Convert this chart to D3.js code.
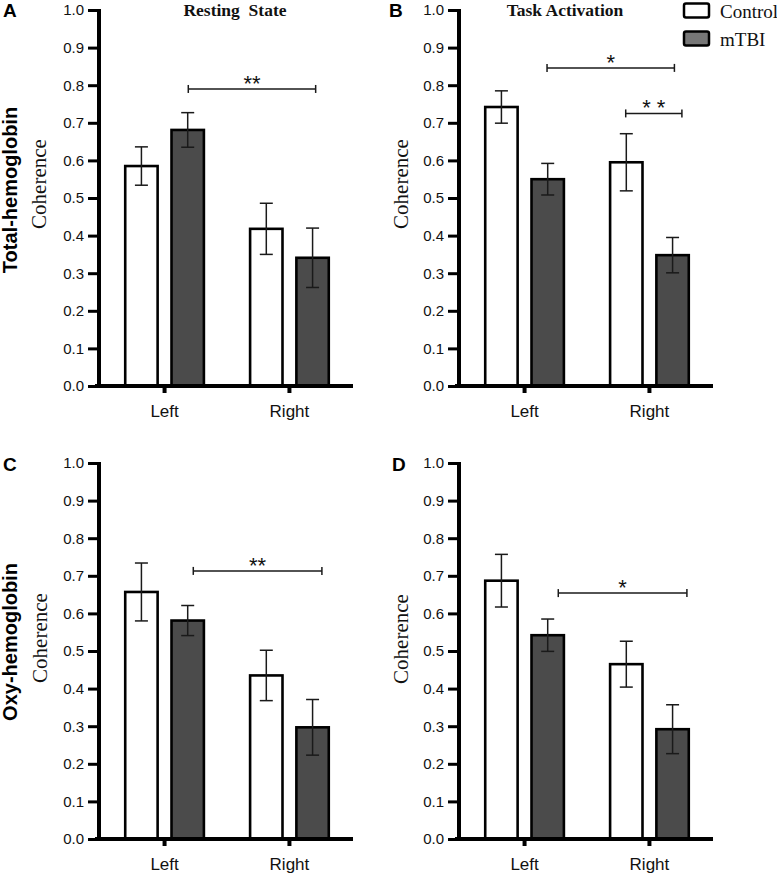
<!DOCTYPE html>
<html>
<head>
<meta charset="utf-8">
<script src="https://cdn.jsdelivr.net/npm/d3@7"></script>
<style>
  html, body { margin: 0; padding: 0; background: #fff; }
  svg { display: block; }
  .pre { white-space: pre; }
</style>
</head>
<body>
<svg id="chart" width="777" height="876"></svg>
<script>
// ---------------- data ----------------
const categories = ["Left", "Right"];
const groups = ["Control", "mTBI"];
const yTicks = [0, 0.1, 0.2, 0.3, 0.4, 0.5, 0.6, 0.7, 0.8, 0.9, 1.0];
const panelLetters = ["A", "B", "C", "D"];
const rowLabels = ["Total-hemoglobin", "Oxy-hemoglobin"];
const colTitles = ["Resting  State", "Task Activation"];
const yLabel = "Coherence";

// Panel A: Total-hemoglobin, Resting State
const controlA = [0.585, 0.418];
const controlErrA = [0.051, 0.068];
const mtbiA = [0.681, 0.341];
const mtbiErrA = [0.046, 0.079];
const sigA = [{ x1: 0.19, x2: 1.21, y: 0.79, label: "**" }];

// Panel B: Total-hemoglobin, Task Activation
const controlB = [0.742, 0.595];
const controlErrB = [0.043, 0.076];
const mtbiB = [0.550, 0.348];
const mtbiErrB = [0.042, 0.047];
const sigB = [
  { x1: 0.18, x2: 1.20, y: 0.846, label: "*" },
  { x1: 0.81, x2: 1.26, y: 0.725, label: "* *" }
];

// Panel C: Oxy-hemoglobin, Resting State
const controlC = [0.657, 0.435];
const controlErrC = [0.077, 0.067];
const mtbiC = [0.581, 0.297];
const mtbiErrC = [0.040, 0.074];
const sigC = [{ x1: 0.23, x2: 1.26, y: 0.713, label: "**" }];

// Panel D: Oxy-hemoglobin, Task Activation
const controlD = [0.687, 0.465];
const controlErrD = [0.070, 0.061];
const mtbiD = [0.542, 0.292];
const mtbiErrD = [0.043, 0.065];
const sigD = [{ x1: 0.27, x2: 1.30, y: 0.654, label: "*" }];

// ---------------- styles / layout ----------------
const SANS = "'Liberation Sans', Arial, Helvetica, sans-serif";
const SERIF = "'Liberation Serif', 'Times New Roman', serif";
const fillColors = { Control: "#ffffff", mTBI: "#4b4b4b" };
const legendFill = { Control: "#ffffff", mTBI: "#777777" };

const panels = [
  { id: "A", control: controlA, cErr: controlErrA, mtbi: mtbiA, mErr: mtbiErrA, sig: sigA,
    ax: 99, y0: 386, y1: 10, letterX: 3, letterY: 17, cohX: 46, cohY: 184 },
  { id: "B", control: controlB, cErr: controlErrB, mtbi: mtbiB, mErr: mtbiErrB, sig: sigB,
    ax: 459, y0: 386, y1: 10, letterX: 389, letterY: 17, cohX: 408, cohY: 184 },
  { id: "C", control: controlC, cErr: controlErrC, mtbi: mtbiC, mErr: mtbiErrC, sig: sigC,
    ax: 99, y0: 839, y1: 463, letterX: 3, letterY: 471, cohX: 47, cohY: 638 },
  { id: "D", control: controlD, cErr: controlErrD, mtbi: mtbiD, mErr: mtbiErrD, sig: sigD,
    ax: 459, y0: 839, y1: 463, letterX: 392, letterY: 471, cohX: 408, cohY: 639 }
];

const svg = d3.select("#chart");

panels.forEach((p, pi) => {
  const g = svg.append("g");
  const x = d3.scaleBand().domain(categories).range([p.ax, p.ax + 256])
    .paddingInner(0.37).paddingOuter(0.21);
  const xg = d3.scaleBand().domain(groups).range([0, x.bandwidth()]).paddingInner(0.3);
  const y = d3.scaleLinear().domain([0, 1]).range([p.y0, p.y1]);
  const xPos = d3.scaleLinear().domain([0, 1])
    .range([x("Left") + x.bandwidth() / 2, x("Right") + x.bandwidth() / 2]);

  // Y axis (ticks + labels)
  const yAxis = d3.axisLeft(y).tickValues(yTicks).tickFormat(d3.format(".1f"))
    .tickSize(11).tickSizeOuter(0).tickPadding(4);
  const yg = g.append("g").attr("transform", `translate(${p.ax},0)`).call(yAxis);
  yg.select(".domain").remove();
  yg.selectAll(".tick line").attr("stroke", "#000").attr("stroke-width", 3);
  yg.selectAll(".tick text").attr("font-family", SANS).attr("font-size", 15).attr("fill", "#111");

  // X axis (ticks + labels)
  const xAxis = d3.axisBottom(x).tickSize(7).tickSizeOuter(0).tickPadding(12);
  const xgAxis = g.append("g").attr("transform", `translate(0,${p.y0})`).call(xAxis);
  xgAxis.select(".domain").remove();
  xgAxis.selectAll(".tick line").attr("stroke", "#000").attr("stroke-width", 4);
  xgAxis.selectAll(".tick text").attr("font-family", SANS).attr("font-size", 17).attr("fill", "#111");

  // data rows
  const rows = [];
  categories.forEach((c, ci) => {
    rows.push({ cat: c, grp: "Control", v: p.control[ci], e: p.cErr[ci] });
    rows.push({ cat: c, grp: "mTBI", v: p.mtbi[ci], e: p.mErr[ci] });
  });

  // bars
  g.selectAll("rect.bar").data(rows).enter().append("rect")
    .attr("class", "bar")
    .attr("x", d => x(d.cat) + xg(d.grp))
    .attr("width", xg.bandwidth())
    .attr("y", d => y(d.v))
    .attr("height", d => y(0) - y(d.v))
    .attr("fill", d => fillColors[d.grp])
    .attr("stroke", "#000").attr("stroke-width", 2.6);

  // error bars
  const eb = g.selectAll("g.err").data(rows).enter().append("g").attr("class", "err")
    .attr("stroke", "#1a1a1a").attr("stroke-width", 1.5);
  const cx = d => x(d.cat) + xg(d.grp) + xg.bandwidth() / 2;
  eb.append("line").attr("x1", cx).attr("x2", cx)
    .attr("y1", d => y(d.v - d.e)).attr("y2", d => y(d.v + d.e));
  eb.append("line").attr("x1", d => cx(d) - 6.5).attr("x2", d => cx(d) + 6.5)
    .attr("y1", d => y(d.v + d.e)).attr("y2", d => y(d.v + d.e));
  eb.append("line").attr("x1", d => cx(d) - 6.5).attr("x2", d => cx(d) + 6.5)
    .attr("y1", d => y(d.v - d.e)).attr("y2", d => y(d.v - d.e));

  // axis lines (thick)
  g.append("line").attr("x1", p.ax).attr("x2", p.ax)
    .attr("y1", y(1) - 1).attr("y2", y(0) + 2)
    .attr("stroke", "#000").attr("stroke-width", 4);
  g.append("line").attr("x1", p.ax - 4).attr("x2", p.ax + 254)
    .attr("y1", y(0)).attr("y2", y(0))
    .attr("stroke", "#000").attr("stroke-width", 4);

  // significance brackets
  const sg = g.selectAll("g.sig").data(p.sig).enter().append("g").attr("class", "sig");
  sg.append("line").attr("x1", d => xPos(d.x1)).attr("x2", d => xPos(d.x2))
    .attr("y1", d => y(d.y)).attr("y2", d => y(d.y))
    .attr("stroke", "#1a1a1a").attr("stroke-width", 1.5);
  sg.append("line").attr("x1", d => xPos(d.x1)).attr("x2", d => xPos(d.x1))
    .attr("y1", d => y(d.y) - 4).attr("y2", d => y(d.y) + 4)
    .attr("stroke", "#1a1a1a").attr("stroke-width", 1.5);
  sg.append("line").attr("x1", d => xPos(d.x2)).attr("x2", d => xPos(d.x2))
    .attr("y1", d => y(d.y) - 4).attr("y2", d => y(d.y) + 4)
    .attr("stroke", "#1a1a1a").attr("stroke-width", 1.5);
  sg.append("text").attr("class", "pre")
    .attr("x", d => (xPos(d.x1) + xPos(d.x2)) / 2)
    .attr("y", d => y(d.y) + 2)
    .attr("text-anchor", "middle")
    .attr("font-family", SANS).attr("font-size", 22).attr("fill", "#111")
    .text(d => d.label);

  // panel letter
  svg.append("text").attr("x", p.letterX).attr("y", p.letterY)
    .attr("font-family", SANS).attr("font-weight", "bold").attr("font-size", 19)
    .attr("fill", "#000").text(panelLetters[pi]);

  // y label
  svg.append("text")
    .attr("transform", `translate(${p.cohX},${p.cohY}) rotate(-90)`)
    .attr("text-anchor", "middle")
    .attr("font-family", SERIF).attr("font-size", 21).attr("fill", "#111")
    .text(yLabel);
});

// row labels
[190, 642].forEach((cy, i) => {
  svg.append("text")
    .attr("transform", `translate(17,${cy}) rotate(-90)`)
    .attr("text-anchor", "middle")
    .attr("font-family", SANS).attr("font-weight", "bold").attr("font-size", 20)
    .attr("fill", "#000").text(rowLabels[i]);
});

// column titles
[235, 565].forEach((cx, i) => {
  svg.append("text").attr("class", "pre")
    .attr("x", cx).attr("y", 15.5).attr("text-anchor", "middle")
    .attr("font-family", SERIF).attr("font-weight", "bold").attr("font-size", 17.5)
    .attr("fill", "#111").text(colTitles[i]);
});

// legend
const lg = svg.append("g");
groups.forEach((grp, i) => {
  lg.append("rect").attr("x", 684).attr("y", 3.5 + i * 28).attr("width", 25).attr("height", 14)
    .attr("rx", 2).attr("fill", legendFill[grp]).attr("stroke", "#000").attr("stroke-width", 2.5);
  lg.append("text").attr("x", 720).attr("y", 18 + i * 27.5)
    .attr("font-family", SERIF).attr("font-size", 19).attr("fill", "#111").text(grp);
});
</script>
</body>
</html>
